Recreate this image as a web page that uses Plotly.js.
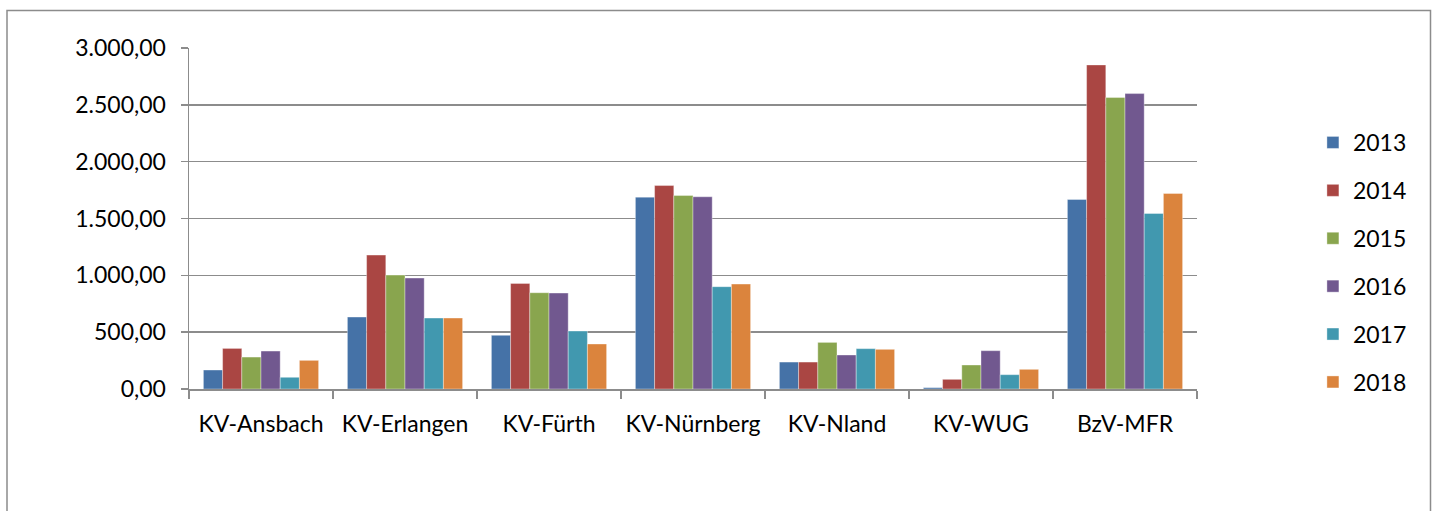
<!DOCTYPE html>
<html>
<head>
<meta charset="utf-8">
<script src="https://cdn.plot.ly/plotly-3.0.1.min.js"></script>
<style>
  html, body { margin: 0; padding: 0; background: #fff; }
  #chart { width: 1437px; height: 511px; }
</style>
</head>
<body>
<div id="chart"></div>
<script>
const categories = ["KV-Ansbach", "KV-Erlangen", "KV-Fürth", "KV-Nürnberg", "KV-Nland", "KV-WUG", "BzV-MFR"];
const years = ["2013", "2014", "2015", "2016", "2017", "2018"];
const v2013 = [167, 633, 472, 1688, 237, 12, 1667];
const v2014 = [357, 1178, 929, 1790, 237, 85, 2851];
const v2015 = [281, 1002, 847, 1702, 410, 211, 2564];
const v2016 = [334, 976, 844, 1691, 299, 337, 2599];
const v2017 = [103, 624, 510, 900, 355, 126, 1544];
const v2018 = [252, 624, 396, 923, 349, 173, 1720];
const seriesValues = [v2013, v2014, v2015, v2016, v2017, v2018];
const colors = ["#4572A7", "#AA4643", "#89A54E", "#71588F", "#4198AF", "#DB843D"];

const FONT = "Lato, 'Open Sans', sans-serif";

const traces = years.map((y, i) => ({
  type: "bar",
  name: y,
  x: categories,
  y: seriesValues[i],
  legendgroup: "g" + i,
  marker: { color: colors[i], line: { color: "rgba(255,255,255,0.45)", width: 0.8 } },
  hoverinfo: "x+y+name"
}));

const layout = {
  width: 1437,
  height: 511,
  margin: { l: 189, r: 240, t: 48, b: 122 },
  paper_bgcolor: "#ffffff",
  plot_bgcolor: "#ffffff",
  separators: ",.",
  font: { family: FONT, size: 23, color: "#000000" },
  barmode: "group",
  bargap: 0.2,
  bargroupgap: 0,
  showlegend: true,
  legend: {
    x: 1.115, xanchor: "left",
    y: 0.371, yanchor: "middle",
    font: { family: FONT, size: 23, color: "#000" },
    tracegroupgap: 15,
    bgcolor: "rgba(0,0,0,0)"
  },
  xaxis: {
    type: "category",
    tickson: "boundaries",
    tickangle: 0,
    ticks: "outside",
    ticklen: 8,
    tickwidth: 1.5,
    tickcolor: "#8c8c8c",
    showline: true,
    linecolor: "#8c8c8c",
    linewidth: 1.5,
    showgrid: false,
    zeroline: false,
    ticklabelstandoff: 14,
    tickfont: { family: FONT, size: 23, color: "#000" }
  },
  yaxis: {
    range: [0, 3000],
    dtick: 500,
    tick0: 0,
    tickformat: ",.2f",
    ticks: "outside",
    ticklen: 7,
    tickwidth: 1.5,
    tickcolor: "#8c8c8c",
    showline: true,
    linecolor: "#8c8c8c",
    linewidth: 1.5,
    showgrid: true,
    gridcolor: "#8c8c8c",
    gridwidth: 1.5,
    zeroline: false,
    ticklabelstandoff: 10,
    tickfont: { family: FONT, size: 23, color: "#000" }
  },
  shapes: [{
    type: "rect",
    xref: "paper", yref: "paper",
    x0: (7 - 189) / 1008, x1: (1430.5 - 189) / 1008,
    y0: (389 - 530) / 341, y1: (389 - 10.5) / 341,
    line: { color: "#8c8c8c", width: 1.5 },
    fillcolor: "rgba(0,0,0,0)",
    layer: "below"
  }]
};

Plotly.newPlot("chart", traces, layout, { displayModeBar: false, staticPlot: true });
</script>
</body>
</html>
